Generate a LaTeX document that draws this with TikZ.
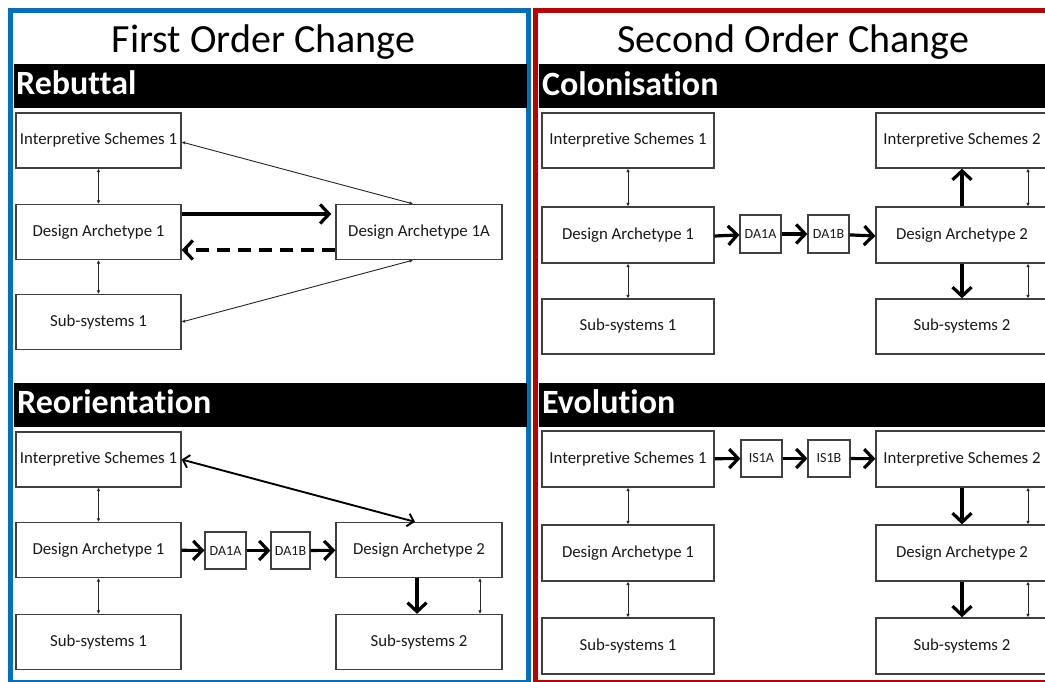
\documentclass[tikz,border=0pt]{standalone}
\usepackage{fontspec}
\setmainfont{Carlito}[Ligatures=NoCommon]
\usetikzlibrary{arrows.meta}
\definecolor{pblue}{HTML}{0070C0}
\definecolor{pred}{HTML}{C00000}
\definecolor{boxline}{HTML}{404040}
\definecolor{txt}{HTML}{1A1A1A}
\tikzset{
  box/.style={draw=boxline, line width=1.3pt, fill=white, inner sep=0pt, text=txt,
    font=\fontsize{16.8}{18}\selectfont, minimum height=55pt},
  wl/.style={minimum width=165pt},
  wr/.style={minimum width=172pt},
  small/.style={draw=boxline, line width=1.2pt, fill=white, inner sep=0pt, text=txt,
    font=\fontsize{14}{16}\selectfont, minimum width=41pt, minimum height=37pt},
  bar/.style={fill=black, inner sep=0pt, minimum height=44pt, anchor=north west},
  bartext/.style={text=white, font=\bfseries\fontsize{34}{38}\selectfont, anchor=base west, inner sep=0pt},
  ttl/.style={text=black, font=\fontsize{40}{44}\selectfont, anchor=base, inner sep=0pt},
  thinarr/.style={line width=0.9pt, draw=black!85, {Latex[length=3.5pt,width=3.5pt]}-{Latex[length=3.5pt,width=3.5pt]}},
  thickarr/.style={line width=3.2pt, -{Straight Barb[length=9pt,width=19pt]}},
  medarr/.style={line width=1.9pt, {Straight Barb[length=6pt,width=13pt]}-{Straight Barb[length=6pt,width=13pt]}},
}
\begin{document}
\begin{tikzpicture}[x=1pt,y=-1pt]
\useasboundingbox (0,0) rectangle (1045,682);
\clip (0,0) rectangle (1045,682);
\fill[white] (0,0) rectangle (1045,682);

% panel borders
\draw[pblue, line width=5.5pt] (10.5,10.5) rectangle (528.5,683);
\draw[pred, line width=5.5pt] (535.5,10.5) rectangle (1052,683);

% titles
\node[ttl] (t1) at (263.5,53) {First Order Change};
\node[ttl] (t2) at (793.5,53) {Second Order Change};

% bars
\node[bar, minimum width=513pt] (b1) at (13.3,64) {};
\node[bar, minimum width=513pt] (b2) at (13.3,383) {};
\node[bar, minimum width=520pt] (b3) at (538.3,64) {};
\node[bar, minimum width=520pt] (b4) at (538.3,383) {};
\node[bartext] (bt1) at (16,95) {Rebuttal};
\node[bartext] (bt2) at (17,413) {Reorientation};
\node[bartext] (bt3) at (542,96) {Colonisation};
\node[bartext] (bt4) at (542,413) {Evolution};

% ---------- Rebuttal ----------
\node[box,wl] (aIS) at (98.5,140.5) {Interpretive Schemes 1};
\node[box,wl] (aDA) at (98.5,232) {Design Archetype 1};
\node[box,wl] (aSS) at (98.5,322) {Sub-systems 1};
\node[box,minimum width=166pt] (aDAA) at (419,232) {Design Archetype 1A};
\draw[thinarr] (aIS) -- (aDA);
\draw[thinarr] (aDA) -- (aSS);
\draw[thinarr] ([yshift=-1.5pt]aIS.east) -- ([xshift=-6pt]aDAA.north);
\draw[thinarr] (aSS.east) -- ([xshift=-6pt]aDAA.south);
\draw[thickarr, shorten >=4pt] ([yshift=18pt]aDA.east) -- ([yshift=18pt]aDAA.west);
\draw[line width=3.2pt, dash pattern=on 13pt off 8pt, -{Straight Barb[length=9pt,width=19pt]}] ([yshift=-18pt]aDAA.west) -- ([yshift=-18pt]aDA.east);

% ---------- Reorientation ----------
\node[box,wl] (bIS) at (98.5,459.5) {Interpretive Schemes 1};
\node[box,wl] (bDA) at (98.5,550) {Design Archetype 1};
\node[box,wl] (bSS) at (98.5,642) {Sub-systems 1};
\node[small] (bA) at (225.5,550.5) {DA1A};
\node[small, minimum width=39pt] (bB) at (290.5,550.5) {DA1B};
\node[box,minimum width=166pt] (bDA2) at (419,550) {Design Archetype 2};
\node[box,minimum width=166pt] (bSS2) at (419,642) {Sub-systems 2};
\draw[thinarr] (bIS) -- (bDA);
\draw[thinarr] (bDA) -- (bSS);
\draw[thickarr] (bDA) -- (bA);
\draw[thickarr] (bA) -- (bB);
\draw[thickarr] (bB) -- (bDA2);
\draw[medarr] (bIS.east) -- ([xshift=-4pt]bDA2.north);
\draw[thickarr] ([xshift=-2pt]bDA2.south) -- ([xshift=-2pt]bSS2.north);
\draw[thinarr] ([xshift=61pt]bDA2.south) -- ([xshift=61pt]bSS2.north);

% ---------- Colonisation ----------
\node[box,wr] (cIS) at (628,140.5) {Interpretive Schemes 1};
\node[box,wr,minimum height=56pt] (cDA) at (628,235) {Design Archetype 1};
\node[box,wr] (cSS) at (628,326.5) {Sub-systems 1};
\node[small, minimum height=38pt] (cA) at (760.5,234) {DA1A};
\node[small, minimum height=38pt] (cB) at (828.5,234) {DA1B};
\node[box,wr] (cIS2) at (962,140.5) {Interpretive Schemes 2};
\node[box,wr,minimum height=56pt] (cDA2) at (962,235) {Design Archetype 2};
\node[box,wr] (cSS2) at (962,326.5) {Sub-systems 2};
\draw[thinarr] (cIS) -- (cDA);
\draw[thinarr] (cDA) -- (cSS);
\draw[thickarr] ([yshift=-1pt]cDA.east) -- (cA);
\draw[thickarr] (cA) -- (cB);
\draw[thickarr] (cB) -- ([yshift=-1pt]cDA2.west);
\draw[thickarr] (cDA2) -- (cIS2);
\draw[thickarr] (cDA2) -- (cSS2);
\draw[thinarr] ([xshift=66pt]cIS2.south) -- ([xshift=66pt]cDA2.north);
\draw[thinarr] ([xshift=66pt]cDA2.south) -- ([xshift=66pt]cSS2.north);

% ---------- Evolution ----------
\node[box,wr,minimum height=56pt] (dIS) at (628,459) {Interpretive Schemes 1};
\node[box,wr,minimum height=56pt] (dDA) at (628,553) {Design Archetype 1};
\node[box,wr,minimum height=56pt] (dSS) at (628,646) {Sub-systems 1};
\node[small] (dA) at (761.5,458.5) {IS1A};
\node[small, minimum width=42pt] (dB) at (829,458.5) {IS1B};
\node[box,wr,minimum height=56pt] (dIS2) at (962,459) {Interpretive Schemes 2};
\node[box,wr,minimum height=56pt] (dDA2) at (962,553) {Design Archetype 2};
\node[box,wr,minimum height=56pt] (dSS2) at (962,646) {Sub-systems 2};
\draw[thinarr] (dIS) -- (dDA);
\draw[thinarr] (dDA) -- (dSS);
\draw[thickarr] (dIS) -- (dA);
\draw[thickarr] (dA) -- (dB);
\draw[thickarr] (dB) -- (dIS2);
\draw[thickarr] (dIS2) -- (dDA2);
\draw[thickarr] (dDA2) -- (dSS2);
\draw[thinarr] ([xshift=66pt]dIS2.south) -- ([xshift=66pt]dDA2.north);
\draw[thinarr] ([xshift=66pt]dDA2.south) -- ([xshift=66pt]dSS2.north);
\end{tikzpicture}
\end{document}
